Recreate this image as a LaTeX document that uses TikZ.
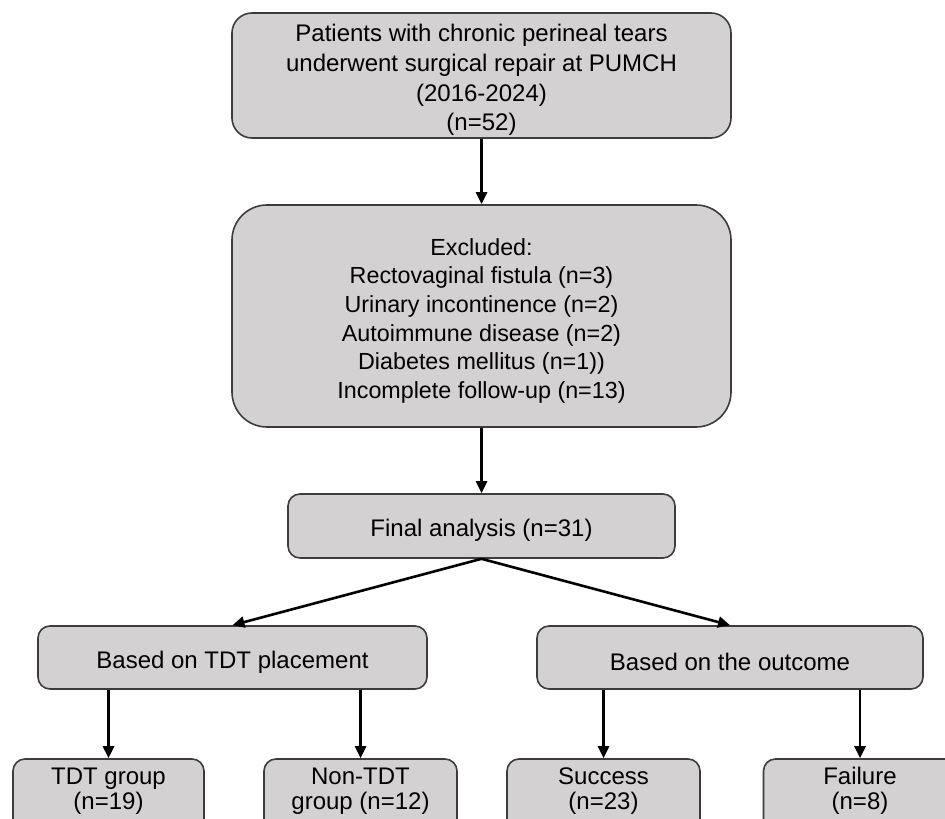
\documentclass[tikz,border=0pt]{standalone}
\usepackage{fontspec}
\setmainfont{Liberation Sans}
\usetikzlibrary{arrows.meta}
\definecolor{boxfill}{RGB}{212,209,210}
\definecolor{boxline}{RGB}{60,60,60}
\newcommand{\upstrut}{\rule{0pt}{26.5pt}}
\newcommand{\downstrut}{\rule[-17pt]{0pt}{17pt}}
\tikzset{
  fbox/.style={draw=boxline, line width=1.6pt, fill=boxfill, rounded corners=#1,
    align=center, inner sep=0pt, font=\fontsize{24}{29.7}\selectfont},
  fbox/.default=12pt,
  endbox/.style={fbox, minimum width=193pt, minimum height=76pt, font=\fontsize{24}{25.5}\selectfont},
  conn/.style={line width=2.6pt, -{Triangle[length=12pt,width=11pt]}}
}
\begin{document}
\begin{tikzpicture}[x=1pt,y=-1pt]
\useasboundingbox (0,0) rectangle (945,819);
\clip (0,0) rectangle (945,819);
\node[fbox=20pt, minimum width=499pt, minimum height=125pt] (top) at (481.5,75.5)
  {\upstrut Patients with chronic perineal tears\\underwent surgical repair at PUMCH\\(2016-2024)\\(n=52)};
\node[fbox=35pt, minimum width=499pt, minimum height=222pt, font=\fontsize{23.3}{28.6}\selectfont] (excl) at (481.5,316)
  {\upstrut Excluded:\\Rectovaginal fistula (n=3)\\Urinary incontinence (n=2)\\Autoimmune disease (n=2)\\Diabetes mellitus (n=1))\\Incomplete follow-up (n=13)};
\node[fbox, minimum width=387pt, minimum height=64pt] (fin) at (481.5,526) {\upstrut Final analysis (n=31)};
\node[fbox, minimum width=389pt, minimum height=63pt] (lb) at (232.5,657.5) {\upstrut Based on TDT placement};
\node[fbox, minimum width=386pt, minimum height=63pt] (rb) at (730,657.5) {\upstrut Based on the outcome};
\node[endbox, minimum width=191pt] (tdt) at (108.5,797) {TDT group\\(n=19)\downstrut};
\node[endbox] (ntdt) at (360.5,797) {Non-TDT\\group (n=12)\downstrut};
\node[endbox] (succ) at (603.5,797) {Success\\(n=23)\downstrut};
\node[endbox] (fail) at (860,797) {Failure\\(n=8)\downstrut};
\draw[conn] (top) -- (excl);
\draw[conn] (excl) -- (fin);
\draw[conn] (fin.south) -- (lb.north);
\draw[conn] (fin.south) -- (rb.north);
\draw[conn] (tdt.north |- lb.south) -- (tdt.north);
\draw[conn] (ntdt.north |- lb.south) -- (ntdt.north);
\draw[conn] (succ.north |- rb.south) -- (succ.north);
\draw[conn] (fail.north |- rb.south) -- (fail.north);
\end{tikzpicture}
\end{document}
